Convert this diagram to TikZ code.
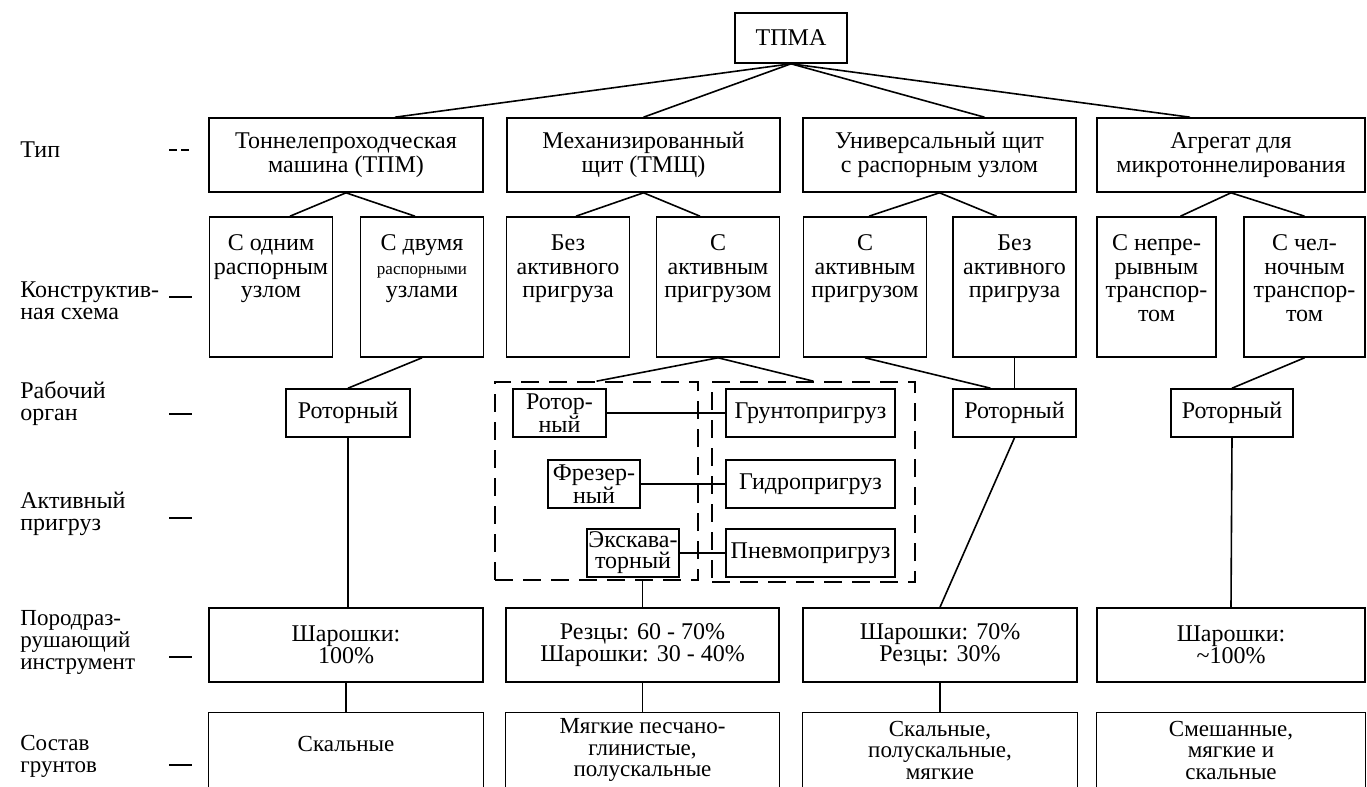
\documentclass[tikz,border=0pt]{standalone}
\usepackage{fontspec}
\setmainfont{Liberation Serif}
\begin{document}
\begin{tikzpicture}[x=0.5pt,y=-0.5pt,
  font=\fontsize{12}{12}\selectfont,
  conn/.style={line width=0.8pt},
  box/.style={draw, line width=0.8pt, inner sep=0pt, align=center},
  typebox/.style={box, minimum height=37pt, font=\fontsize{12}{12}\selectfont},
  subbox/.style={box, minimum width=61.5pt, minimum height=70pt},
  subtext/.style={inner sep=0pt, align=center, anchor=north, font=\fontsize{12}{11.75}\selectfont},
  smallbox/.style={box, minimum height=24pt, font=\fontsize{12}{10.5}\selectfont},
  grp/.style={draw, line width=0.8pt, dash pattern=on 9pt off 5pt, inner sep=0pt},
  toolbox/.style={box, minimum height=37pt, font=\fontsize{12}{11}\selectfont},
  soil/.style={inner sep=0pt, align=center, minimum height=37pt, font=\fontsize{11.5}{10.75}\selectfont},
  lbl/.style={anchor=west, align=left, inner sep=0pt, font=\fontsize{12}{11}\selectfont}
]
\useasboundingbox[fill=white] (0,0) rectangle (1367,787);
\coordinate (bot) at (0,790);

% root
\node[box, minimum width=56pt, minimum height=25pt] (tpma) at (791,38) {ТПМА};

% type row
\node[typebox, minimum width=137pt] (t1) at (346,155) {Тоннелепроходческая\\машина (ТПМ)};
\node[typebox, minimum width=136.5pt] (t2) at (643.5,155) {Механизированный\\щит (ТМЩ)};
\node[typebox, minimum width=136.5pt] (t3) at (939.5,155) {Универсальный щит\\с распорным узлом};
\node[typebox, minimum width=134pt] (t4) at (1231,155) {Агрегат для\\микротоннелирования};

% constructive scheme row
\node[subbox] (a) at (271,287) {};
\node[subbox] (b) at (422,287) {};
\node[subbox] (c) at (568,287) {};
\node[subbox] (d) at (718,287) {};
\node[subbox] (e) at (865,287) {};
\node[subbox] (f) at (1014.5,287) {};
\node[subbox, minimum width=59.5pt] (g) at (1156.5,287) {};
\node[subbox, minimum width=60.5pt] (h) at (1304.5,287) {};
\node[subtext] (at) at ([yshift=-9.25pt]a.north) {С одним\\распорным\\узлом};
\node[subtext] (bt) at ([yshift=-9.25pt]b.north) {С двумя\\{\fontsize{8.5}{11.75}\selectfont распорными}\\узлами};
\node[subtext] (ct) at ([yshift=-9.25pt]c.north) {Без\\активного\\пригруза};
\node[subtext] (dt) at ([yshift=-9.25pt]d.north) {С\\активным\\пригрузом};
\node[subtext] (et) at ([yshift=-9.25pt]e.north) {С\\активным\\пригрузом};
\node[subtext] (ft) at ([yshift=-9.25pt]f.north) {Без\\активного\\пригруза};
\node[subtext] (gt) at ([yshift=-9.25pt]g.north) {С непре-\\рывным\\транспор-\\том};
\node[subtext] (ht) at ([yshift=-9.25pt]h.north) {С чел-\\ночным\\транспор-\\том};

% working organ
\node[smallbox, minimum width=62pt] (r1) at (348,413) {Роторный};
\node[smallbox, minimum width=61.5pt] (r3) at (1014.5,413) {Роторный};
\node[smallbox, minimum width=61pt] (r4) at (1232,413) {Роторный};

% groups
\node[grp, minimum width=101.5pt, minimum height=99pt] (lg) at (596.5,481) {};
\node[grp, minimum width=101.5pt, minimum height=100pt] (rg) at (813.5,482) {};

\node[smallbox, minimum width=46.5pt] (w1) at (559.5,413) {Ротор-\\ный};
\node[smallbox, minimum width=46pt] (w2) at (594,484) {Фрезер-\\ный};
\node[smallbox, minimum width=46pt] (w3) at (633,553) {Экскава-\\торный};
\node[smallbox, minimum width=84.5pt] (p1) at (810.5,413) {Грунтопригруз};
\node[smallbox, minimum width=84.5pt] (p2) at (810.5,484) {Гидропригруз};
\node[smallbox, minimum width=84.5pt] (p3) at (810.5,553) {Пневмопригруз};

% tools
\node[toolbox, minimum width=137pt] (k1) at (346,645) {Шарошки:\\100\%};
\node[toolbox, minimum width=136.5pt] (k2) at (642.5,645) {Резцы: 60 - 70\%\\Шарошки: 30 - 40\%};
\node[toolbox, minimum width=137pt] (k3) at (940,645) {Шарошки: 70\%\\Резцы: 30\%};
\node[toolbox, minimum width=134pt] (k4) at (1231,645) {Шарошки:\\\textasciitilde100\%};

% soils (boxes run off the bottom edge)
\node[soil, minimum width=137pt] (s1) at (346,750) {\raisebox{3pt}[\height][\depth]{Скальные}};
\node[soil, minimum width=136.5pt] (s2) at (642.5,750) {Мягкие песчано-\\глинистые,\\полускальные};
\node[soil, minimum width=137pt] (s3) at (940,750) {Скальные,\\полускальные,\\мягкие};
\node[soil, minimum width=134pt] (s4) at (1231,750) {Смешанные,\\мягкие и\\скальные};
\foreach \s in {s1,s2,s3,s4}
  \draw[conn] (\s.north west |- bot) -- (\s.north west) -- (\s.north east) -- (\s.north east |- bot);

% row labels
\node[lbl] (l1) at (20,150) {Тип};
\node[lbl] (l2) at (20,301) {Конструктив-\\ная схема};
\node[lbl] (l3) at (20,403) {Рабочий\\орган};
\node[lbl] (l4) at (20,514) {Активный\\пригруз};
\node[lbl, font=\fontsize{11.5}{11}\selectfont] (l5) at (20,642) {Породраз-\\рушающий\\инструмент};
\node[lbl, font=\fontsize{11.5}{11}\selectfont] (l6) at (20,756) {Состав\\грунтов};
\coordinate (m1a) at (169,150); \coordinate (m1b) at (192,150);
\coordinate (m2a) at (169,297); \coordinate (m2b) at (192,297);
\coordinate (m3a) at (169,414); \coordinate (m3b) at (192,414);
\coordinate (m4a) at (169,518); \coordinate (m4b) at (192,518);
\coordinate (m5a) at (169,657); \coordinate (m5b) at (192,657);
\coordinate (m6a) at (169,765); \coordinate (m6b) at (192,765);
\draw[conn, dash pattern=on 4pt off 2pt] (m1a) -- (m1b);
\draw[conn] (m2a) -- (m2b);
\draw[conn] (m3a) -- (m3b);
\draw[conn] (m4a) -- (m4b);
\draw[conn] (m5a) -- (m5b);
\draw[conn] (m6a) -- (m6b);

% connectors: root to types
\draw[conn] (tpma.south) -- ([xshift=24.5pt]t1.north);
\draw[conn] (tpma.south) -- (t2.north);
\draw[conn] (tpma.south) -- ([xshift=22.5pt]t3.north);
\draw[conn] (tpma.south) -- ([xshift=-20.5pt]t4.north);

% types to schemes
\draw[conn] (t1.south) -- ([xshift=9.5pt]a.north);
\draw[conn] (t1.south) -- ([xshift=-3.5pt]b.north);
\draw[conn] (t2.south) -- ([xshift=4pt]c.north);
\draw[conn] (t2.south) -- ([xshift=-9pt]d.north);
\draw[conn] (t3.south) -- ([xshift=2pt]e.north);
\draw[conn] (t3.south) -- ([xshift=-9pt]f.north);
\draw[conn] (t4.south) -- ([xshift=12pt]g.north);
\draw[conn] (t4.south) -- (h.north);

% schemes to working organs
\draw[conn] (b.south) -- (r1.north);
\draw[conn] (d.south) -- (lg.north);
\draw[conn] (d.south) -- (rg.north);
\draw[conn] (e.south) -- ([xshift=-12pt]r3.north);
\draw[conn] (f.south) -- (r3.north);
\draw[conn] (h.south) -- (r4.north);

% organ to loading
\draw[conn] (w1.east) -- (p1.west);
\draw[conn] (w2.east) -- (p2.west);
\draw[conn] (w3.east) -- (p3.west);

% to tools
\draw[conn] (r1.south) -- (r1.south |- k1.north);
\draw[conn] (k2.north |- lg.south) -- (k2.north);
\draw[conn] (r3.south) -- (k3.north);
\draw[conn] (r4.south) -- (k4.north);

% tools to soils
\draw[conn] (k1.south) -- (k1.south |- s1.north);
\draw[conn] (k2.south) -- (k2.south |- s2.north);
\draw[conn] (k3.south) -- (k3.south |- s3.north);
\end{tikzpicture}
\end{document}
